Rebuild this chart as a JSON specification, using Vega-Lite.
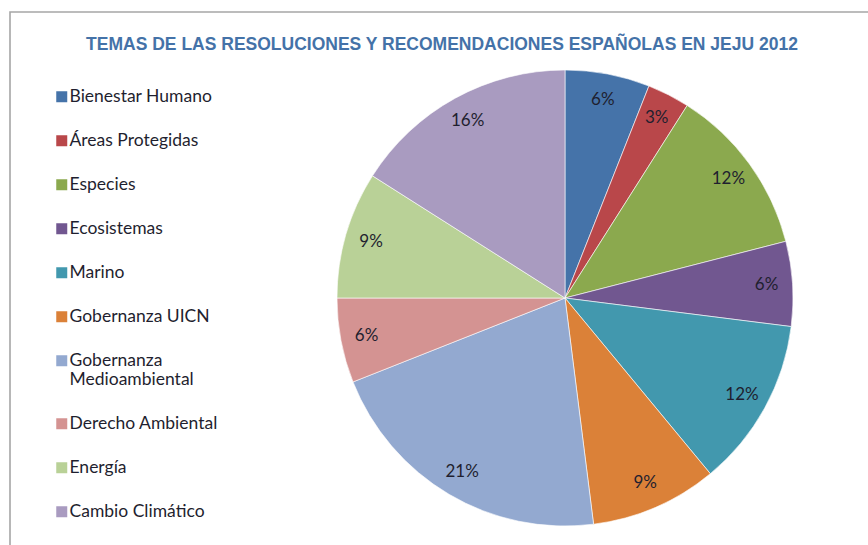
{
  "$schema": "https://vega.github.io/schema/vega-lite/v6.json",
  "autosize": {"type": "none"},
  "width": 864,
  "height": 539,
  "padding": {"left": 10, "top": 12, "right": -6, "bottom": -6},
  "background": "white",
  "title": {
    "text": "TEMAS DE LAS RESOLUCIONES Y RECOMENDACIONES ESPAÑOLAS EN JEJU 2012",
    "font": "Liberation Sans",
    "fontSize": 17.5,
    "fontWeight": "bold",
    "color": "#4472a8",
    "anchor": "middle",
    "baseline": "middle",
    "offset": 0,
    "dy": 51
  },
  "config": {
    "view": {"stroke": null},
    "font": "Lato"
  },
  "data": {
    "values": [
      {"idx": 1, "tema": "Bienestar Humano", "pct": 0.06},
      {"idx": 2, "tema": "Áreas Protegidas", "pct": 0.03},
      {"idx": 3, "tema": "Especies", "pct": 0.12},
      {"idx": 4, "tema": "Ecosistemas", "pct": 0.06},
      {"idx": 5, "tema": "Marino", "pct": 0.12},
      {"idx": 6, "tema": "Gobernanza UICN", "pct": 0.09},
      {"idx": 7, "tema": "Gobernanza Medioambiental", "pct": 0.21},
      {"idx": 8, "tema": "Derecho Ambiental", "pct": 0.06},
      {"idx": 9, "tema": "Energía", "pct": 0.09},
      {"idx": 10, "tema": "Cambio Climático", "pct": 0.16}
    ]
  },
  "layer": [
    {
      "data": {"values": [{"frame": "marco"}]},
      "mark": {"type": "rect", "fill": null, "stroke": "#a6a6a6", "strokeWidth": 1.6},
      "encoding": {
        "x": {"value": 0},
        "x2": {"value": "width"},
        "y": {"value": 0},
        "y2": {"value": "height"}
      }
    },
    {
      "mark": {"type": "arc", "radius": 228, "x": 555, "y": 286, "stroke": "white", "strokeWidth": 0.6},
      "encoding": {
        "theta": {"field": "pct", "type": "quantitative", "stack": true},
        "order": {"field": "idx", "type": "quantitative"},
        "color": {
          "field": "tema",
          "type": "nominal",
          "sort": null,
          "scale": {
            "domain": ["Bienestar Humano", "Áreas Protegidas", "Especies", "Ecosistemas", "Marino", "Gobernanza UICN", "Gobernanza Medioambiental", "Derecho Ambiental", "Energía", "Cambio Climático"],
            "range": ["#4573a9", "#b9474a", "#8ba94e", "#715790", "#4298ae", "#db8138", "#93a9d0", "#d49392", "#b9d197", "#a99bc0"]
          },
          "legend": {
            "title": null,
            "orient": "none",
            "legendX": 43,
            "legendY": 76,
            "symbolType": "square",
            "symbolSize": 121,
            "symbolStrokeWidth": 0,
            "symbolOpacity": 1,
            "labelFont": "Lato",
            "labelFontSize": 17.5,
            "labelColor": "#1f1f2f",
            "labelOffset": -1,
            "labelLimit": 300,
            "rowPadding": 25,
            "padding": 0,
            "labelExpr": "datum.label == 'Gobernanza Medioambiental' ? ['Gobernanza', 'Medioambiental'] : datum.label"
          }
        }
      }
    },
    {
      "mark": {"type": "text", "radius": 202, "x": 555, "y": 286, "font": "Lato", "fontSize": 17, "fill": "#1f1f2f", "align": "center", "baseline": "middle"},
      "encoding": {
        "theta": {"field": "pct", "type": "quantitative", "stack": true},
        "order": {"field": "idx", "type": "quantitative"},
        "text": {"field": "pct", "type": "quantitative", "format": ".0%"}
      }
    }
  ]
}
